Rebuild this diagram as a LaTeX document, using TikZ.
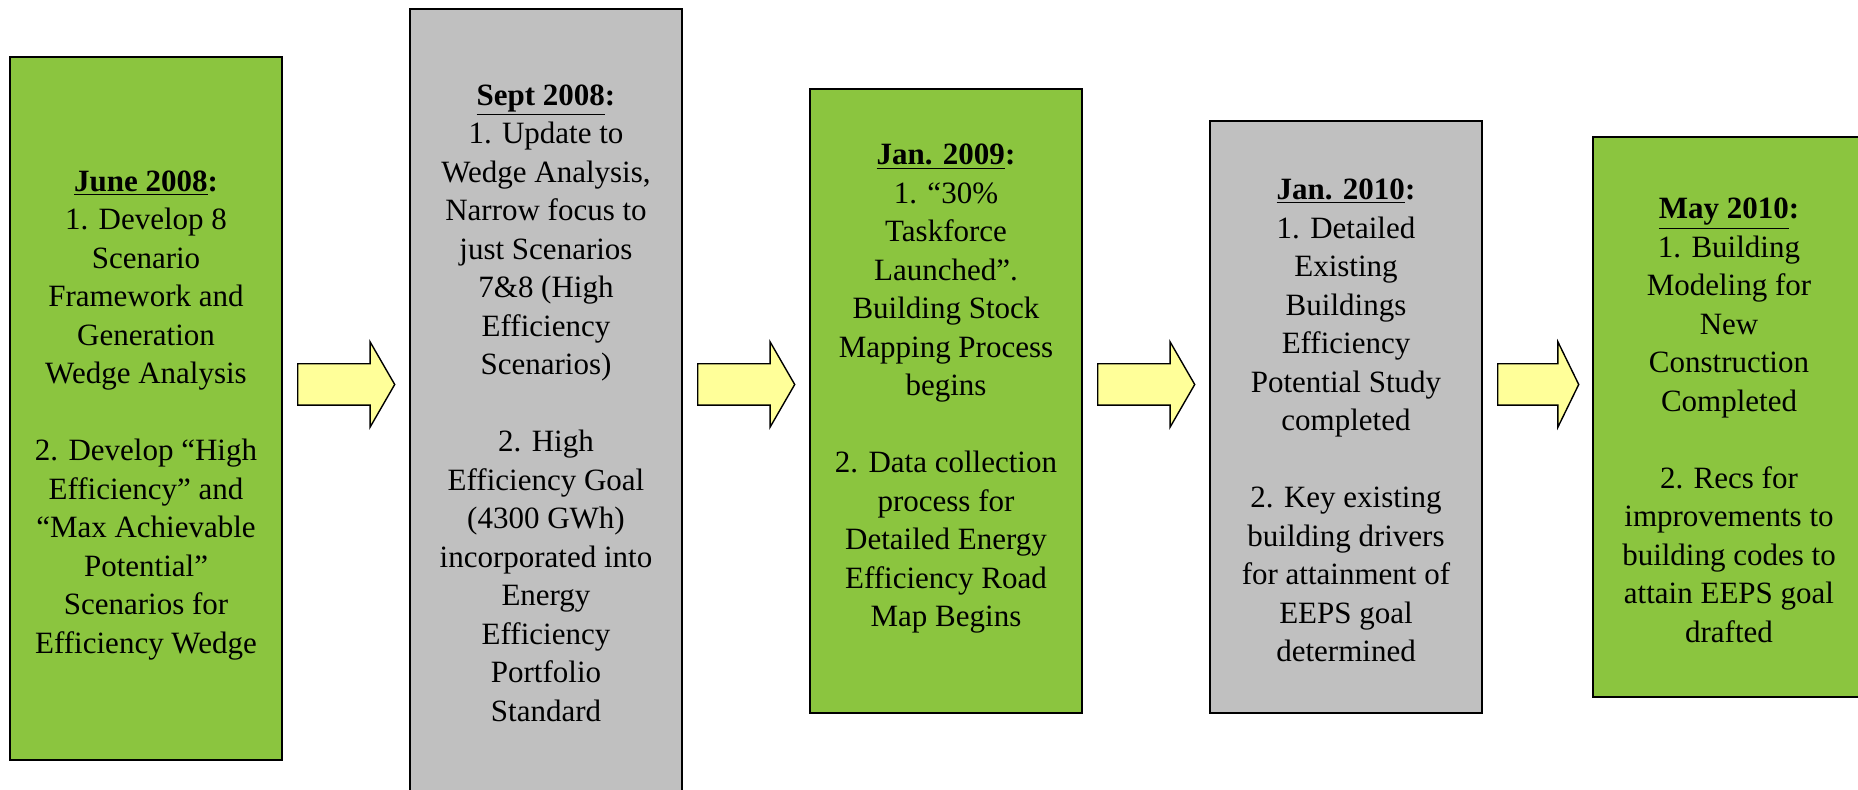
\documentclass[tikz,border=0pt]{standalone}
\usepackage{fontspec}
\setmainfont{Liberation Serif}
\usetikzlibrary{shapes.arrows}
\definecolor{boxgreen}{RGB}{139,197,63}
\definecolor{boxgray}{RGB}{192,192,192}
\definecolor{arrowyellow}{RGB}{255,255,153}
\newcommand\datehead[1]{\underline{\textbf{#1}}\textbf{:}}

\begin{document}
\begin{tikzpicture}[x=0.5pt,y=-0.5pt]
	\tikzstyle{every node}=[font=\fontsize{15.5}{19.25}\selectfont, align=center, inner sep=0pt]
	\tikzstyle{phase}=[draw, line width=0.8pt, minimum width=136pt]
	\tikzstyle{greenbox}=[phase, fill=boxgreen]
	\tikzstyle{graybox}=[phase, fill=boxgray]
	\tikzstyle{yarrow}=[single arrow, draw, fill=arrowyellow, line width=0.7pt,
		inner xsep=0pt, inner ysep=10pt, single arrow head extend=11pt,
		single arrow tip angle=120, minimum height=48.5pt, anchor=west]
	\clip (0,0) rectangle (1858,790);
	% phase boxes
	\node[greenbox, minimum height=351.5pt] (june08) at (146,408.5) {};
	\node[graybox, minimum height=395.5pt] (sept08) at (546,404.5) {};
	\node[greenbox, minimum height=312pt] (jan09) at (946,401) {};
	\node[graybox, minimum height=296pt] (jan10) at (1346,417) {};
	\node[greenbox, minimum height=280pt] (may10) at (1729,417) {};
	% texts in the boxes
	\node[yshift=-3.5pt] (june08txt) at (june08.center) {
		\datehead{June 2008}\\
		1. Develop 8\\ Scenario\\ Framework and\\ Generation\\ Wedge Analysis\\[19.25pt]
		2. Develop “High\\ Efficiency” and\\ “Max Achievable\\ Potential”\\ Scenarios for\\ Efficiency Wedge};
	\node[yshift=0.6pt] (sept08txt) at (sept08.center) {
		\datehead{Sept 2008}\\
		1. Update to\\ Wedge Analysis,\\ Narrow focus to\\ just Scenarios\\ 7\&8 (High\\ Efficiency\\ Scenarios)\\[19.25pt]
		2. High\\ Efficiency Goal\\ (4300 GWh)\\ incorporated into\\ Energy\\ Efficiency\\ Portfolio\\ Standard};
	\node[yshift=6pt] (jan09txt) at (jan09.center) {
		\datehead{Jan. 2009}\\
		1. “30\%\\ Taskforce\\ Launched”.\\ Building Stock\\ Mapping Process\\ begins\\[19.25pt]
		2. Data collection\\ process for\\ Detailed Energy\\ Efficiency Road\\ Map Begins};
	\node[yshift=-1.75pt] (jan10txt) at (jan10.center) {
		\datehead{Jan. 2010}\\
		1. Detailed\\ Existing\\ Buildings\\ Efficiency\\ Potential Study\\ completed\\[19.25pt]
		2. Key existing\\ building drivers\\ for attainment of\\ EEPS goal\\ determined};
	\node[yshift=-1.75pt] (may10txt) at (may10.center) {
		\datehead{May 2010}\\
		1. Building\\ Modeling for\\ New\\ Construction\\ Completed\\[19.25pt]
		2. Recs for\\ improvements to\\ building codes to\\ attain EEPS goal\\ drafted};
	% arrows between the phases
	\node[yarrow] (a1) at (297,384.5) {};
	\node[yarrow] (a2) at (697,384.5) {};
	\node[yarrow] (a3) at (1097,384.5) {};
	\node[yarrow, minimum height=40.5pt, single arrow tip angle=128] (a4) at (1497,384.5) {};
\end{tikzpicture}
\end{document}
